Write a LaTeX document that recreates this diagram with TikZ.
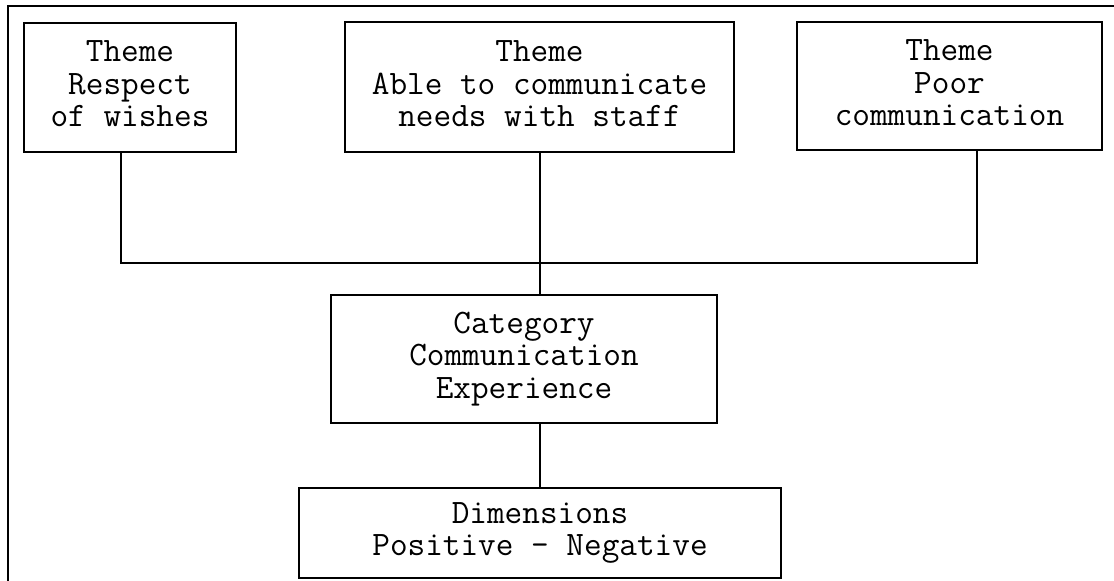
\documentclass[tikz,border=0pt]{standalone}
\usepackage{fontspec}
\begin{document}
\begin{tikzpicture}[x=0.75pt,y=-0.75pt,
  line width=1.5pt,
  box/.style={draw,rectangle,inner sep=0pt,align=center,
    font=\ttfamily\fontsize{25.7pt}{24.4pt}\selectfont},
  link/.style={line width=1.5pt}]
\useasboundingbox (0,0) rectangle (1114,581);

% open frame: top and left sides only
\coordinate (ftl) at (8,6);
\coordinate (ftr) at (1114,6);
\coordinate (fbl) at (8,581);
\draw (ftr) -- (ftl) -- (fbl);

% theme boxes
\node[box,minimum width=159pt,minimum height=96.75pt]
  (b1) at (130,87.5) {Theme\\Respect\\of wishes\vphantom{p}};
\node[box,minimum width=291.75pt,minimum height=97.5pt]
  (b2) at (539.5,87.5) {Theme\\Able to communicate\\needs with staff\vphantom{p}};
\node[box,minimum width=228.75pt,minimum height=96pt]
  (b3) at (949.5,86.5) {Theme\\Poor\\communication\vphantom{p}};

% category and dimensions
\node[box,minimum width=289.5pt,minimum height=96pt]
  (cat) at (524,359) {Category\\Communication\\Experience};
\node[box,minimum width=361.5pt,minimum height=67.5pt]
  (dim) at (540,533) {Dimensions\\Positive - Negative};

% connectors
\coordinate (jl) at (121,263);
\coordinate (jm) at (540,263);
\coordinate (jr) at (977,263);
\draw[link] (b1.south -| jl) -- (jl) -- (jr) -- (b3.south -| jr);
\draw[link] (b2.south -| jm) -- (cat.north -| jm);
\draw[link] (cat.south -| jm) -- (dim.north -| jm);
\end{tikzpicture}
\end{document}
